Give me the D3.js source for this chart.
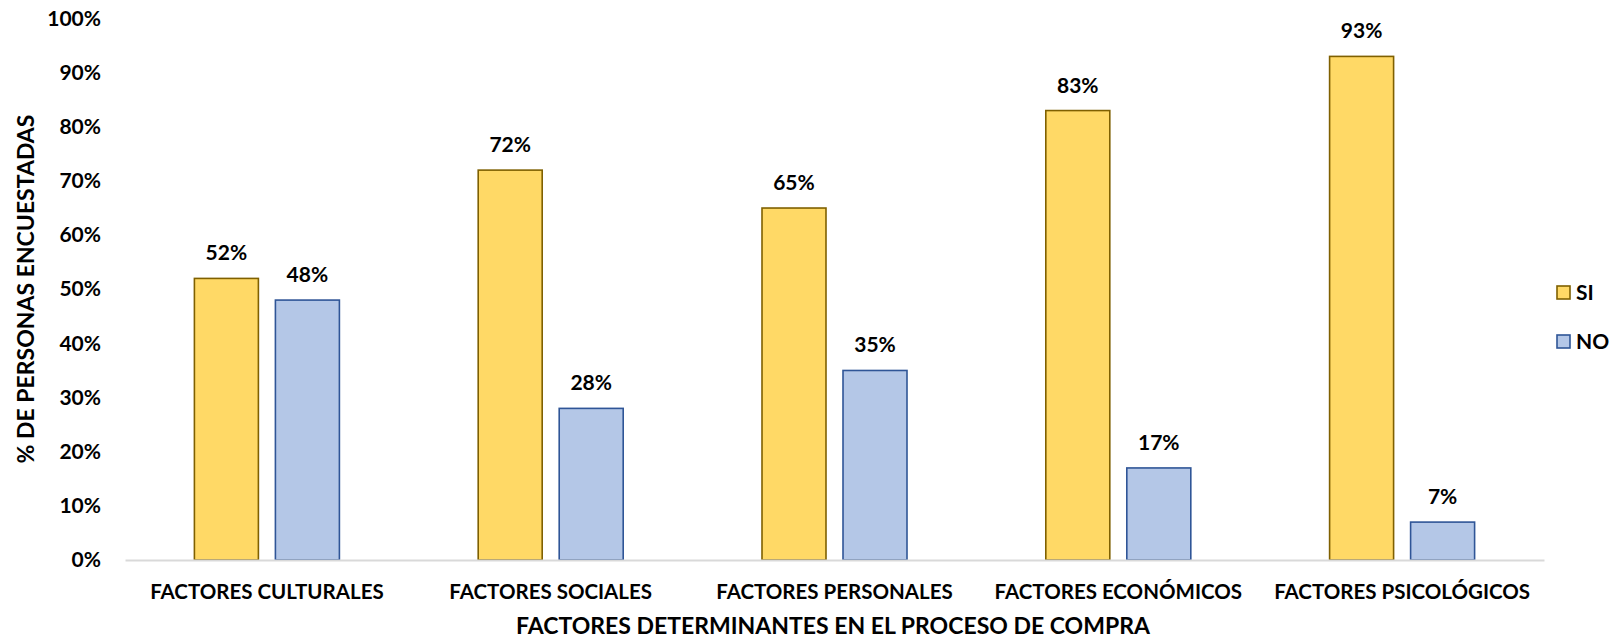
<!DOCTYPE html>
<html>
<head>
<meta charset="utf-8">
<script src="https://cdn.jsdelivr.net/npm/d3@7"></script>
<style>
  html, body { margin: 0; padding: 0; background: #fff; }
  svg text { font-family: Lato, "Open Sans", sans-serif; font-weight: 700; fill: #000; }
</style>
</head>
<body>
<svg id="chart" width="1617" height="639"></svg>
<script>
// Categories and series
const categories = ["FACTORES CULTURALES", "FACTORES SOCIALES", "FACTORES PERSONALES", "FACTORES ECONÓMICOS", "FACTORES PSICOLÓGICOS"];
const seriesNames = ["SI", "NO"];
const siValues = [52, 72, 65, 83, 93];
const noValues = [48, 28, 35, 17, 7];
const yTicks = [0, 10, 20, 30, 40, 50, 60, 70, 80, 90, 100];
const xTitle = "FACTORES DETERMINANTES EN EL PROCESO DE COMPRA";
const yTitle = "% DE PERSONAS ENCUESTADAS";

const fills = { SI: "#FFD966", NO: "#B4C7E7" };
const strokes = { SI: "#7F6000", NO: "#2F5597" };

const rows = categories.map((c, i) => ({ cat: c, SI: siValues[i], NO: noValues[i] }));

const svg = d3.select("#chart");
const plot = { left: 125, right: 1544, top: 18.5, bottom: 560 };

const x0 = d3.scaleBand().domain(categories).range([plot.left, plot.right]).padding(0);
const groupW = 145;
const x1 = d3.scaleBand().domain(seriesNames)
  .range([x0.bandwidth() / 2 - groupW / 2, x0.bandwidth() / 2 + groupW / 2])
  .paddingInner(0.21).paddingOuter(0);
const y = d3.scaleLinear().domain([0, 100]).range([plot.bottom, plot.top]);

// Y axis tick labels
const yAxis = d3.axisLeft(y).tickValues(yTicks).tickFormat(d => d + "%").tickSize(0).tickPadding(0);
const yg = svg.append("g").attr("transform", `translate(${plot.left - 24},0)`).call(yAxis);
yg.select(".domain").remove();
yg.selectAll("text").attr("font-size", 21).attr("font-family", "Lato, sans-serif").attr("font-weight", 700).attr("fill", "#000");

// Bars
const groups = svg.append("g").selectAll("g").data(rows).join("g")
  .attr("transform", d => `translate(${x0(d.cat)},0)`);

groups.selectAll("rect").data(d => seriesNames.map(k => ({ key: k, value: d[k] }))).join("rect")
  .attr("x", d => x1(d.key))
  .attr("y", d => y(d.value))
  .attr("width", x1.bandwidth())
  .attr("height", d => y(0) - y(d.value))
  .attr("fill", d => fills[d.key])
  .attr("stroke", d => strokes[d.key])
  .attr("stroke-width", 1.6);

// Value labels
groups.selectAll("text.val").data(d => seriesNames.map(k => ({ key: k, value: d[k] }))).join("text")
  .attr("class", "val")
  .attr("x", d => x1(d.key) + x1.bandwidth() / 2)
  .attr("y", d => y(d.value) - 18)
  .attr("text-anchor", "middle")
  .attr("font-size", 21)
  .text(d => d.value + "%");

// X axis baseline and category labels
const xAxis = d3.axisBottom(x0).tickSize(0).tickPadding(0);
const xg = svg.append("g").attr("transform", `translate(0,${plot.bottom})`).call(xAxis);
xg.select(".domain").attr("stroke", "#D9D9D9").attr("stroke-width", 2);
xg.selectAll("text").attr("font-size", 20.5).attr("font-family", "Lato, sans-serif").attr("font-weight", 700)
  .attr("fill", "#000").attr("dy", 0).attr("y", 38.5);

// Axis titles
svg.append("text").attr("x", 833).attr("y", 634)
  .attr("text-anchor", "middle").attr("font-size", 23).text(xTitle);

svg.append("text").attr("transform", "translate(34,289) rotate(-90)")
  .attr("text-anchor", "middle").attr("font-size", 23).text(yTitle);

// Legend
const legend = svg.append("g").attr("transform", "translate(1557,0)");
const legendY = { SI: 292.5, NO: 341.5 };
seriesNames.forEach(k => {
  legend.append("rect").attr("x", 0).attr("y", legendY[k] - 6.5).attr("width", 13).attr("height", 13)
    .attr("fill", fills[k]).attr("stroke", strokes[k]).attr("stroke-width", 1.6);
  legend.append("text").attr("x", 19).attr("y", legendY[k]).attr("dy", "0.36em")
    .attr("font-size", 21).text(k);
});
</script>
</body>
</html>
